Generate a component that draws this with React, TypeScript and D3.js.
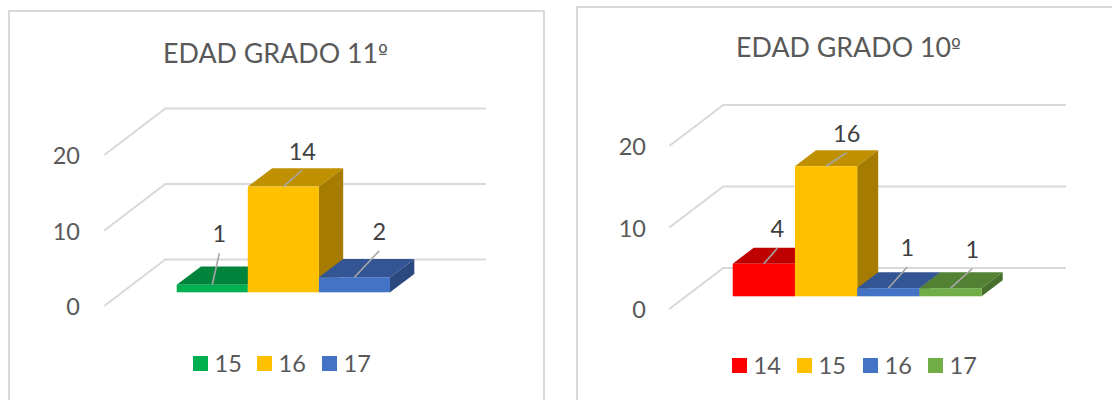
import React from "react";
import * as d3 from "d3";

const ticks = [0, 10, 20];

const titleLeft = "EDAD GRADO 11º";
const categoriesLeft = ["15", "16", "17"];
const valuesLeft = [1, 14, 2];
const colorsLeft = ["#00B050", "#FFC000", "#4472C4"];
const topsLeft = ["#00843C", "#BF9000", "#335593"];
const sidesLeft = ["#006F32", "#A67C00", "#2B487F"];

const titleRight = "EDAD GRADO 10º";
const categoriesRight = ["14", "15", "16", "17"];
const valuesRight = [4, 16, 1, 1];
const colorsRight = ["#FF0000", "#FFC000", "#4472C4", "#70AD47"];
const topsRight = ["#BF0000", "#BF9000", "#335593", "#548235"];
const sidesRight = ["#A60000", "#A67C00", "#2B487F", "#476F2D"];

const FONT = "Lato, Carlito, 'Open Sans', sans-serif";

type Layout = {
  frame: [number, number, number];
  titleX: number;
  titleY: number;
  gridFrontX: number;
  gridWallX: number;
  gridEndX: number;
  y0Front: number;
  y20Front: number;
  wallDy: number;
  tickX: number;
  barLeft: number;
  barRight: number;
  baseline: number;
  pxPerUnit: number;
  depthX: number;
  depthY: number;
  labels: [number, number, number][];
  legendX: number[];
  legendY: number;
};

const layoutLeft: Layout = {
  frame: [9, 11, 544],
  titleX: 275.5,
  titleY: 53,
  gridFrontX: 104.3,
  gridWallX: 165.3,
  gridEndX: 486,
  y0Front: 306,
  y20Front: 155,
  wallDy: 46.5,
  tickX: 80,
  barLeft: 176.7,
  barRight: 390,
  baseline: 292.3,
  pxPerUnit: 7.55,
  depthX: 24.3,
  depthY: 18.3,
  labels: [
    [219.3, 253.3, 233],
    [302.3, 170, 150.5],
    [379.3, 250.7, 231],
  ],
  legendX: [193, 257, 322],
  legendY: 356,
};

const layoutRight: Layout = {
  frame: [577, 7, 1130],
  titleX: 848.5,
  titleY: 47,
  gridFrontX: 669.3,
  gridWallX: 723.3,
  gridEndX: 1066,
  y0Front: 309,
  y20Front: 146,
  wallDy: 41,
  tickX: 646,
  barLeft: 732.7,
  barRight: 981.7,
  baseline: 296.3,
  pxPerUnit: 8.13,
  depthX: 21,
  depthY: 16,
  labels: [
    [777.3, 248.3, 228],
    [846.7, 152.7, 133],
    [907.3, 267, 247],
    [972.3, 268.7, 249],
  ],
  legendX: [732, 797, 863, 928],
  legendY: 358,
};

function Chart({
  title,
  categories,
  values,
  colors,
  tops,
  sides,
  l,
}: {
  title: string;
  categories: string[];
  values: number[];
  colors: string[];
  tops: string[];
  sides: string[];
  l: Layout;
}) {
  const yFront = d3.scaleLinear().domain([0, 20]).range([l.y0Front, l.y20Front]);
  const x = d3
    .scaleBand<string>()
    .domain(categories)
    .range([l.barLeft, l.barRight])
    .padding(0);
  const h = (v: number) => v * l.pxPerUnit;
  const poly = d3.line<[number, number]>();
  const [fx, fy, fr] = l.frame;

  return (
    <g fontFamily={FONT}>
      <path
        d={`M${fx},420V${fy}H${fr}V420`}
        fill="#fff"
        stroke="#D9D9D9"
        strokeWidth={2}
      />
      <text x={l.titleX} y={l.titleY} textAnchor="middle" dominantBaseline="central" fontSize={26.8} fill="#595959">
        {title.slice(0, -1)}
        <tspan fontFamily="'DejaVu Sans', sans-serif" fontSize={21}>{title.slice(-1)}</tspan>
      </text>
      {ticks.map((t) => (
        <g key={t}>
          <path
            d={
              poly([
                [l.gridFrontX, yFront(t)],
                [l.gridWallX, yFront(t) - l.wallDy],
                [l.gridEndX, yFront(t) - l.wallDy],
              ]) ?? ""
            }
            fill="none"
            stroke="#D9D9D9"
            strokeWidth={2}
          />
          <text x={l.tickX} y={yFront(t)} textAnchor="end" dominantBaseline="central" fontSize={23.5} fill="#595959">
            {t}
          </text>
        </g>
      ))}
      {categories.map((c, i) => {
        const x0 = x(c) as number;
        const x1 = x0 + x.bandwidth();
        const y1 = l.baseline;
        const y0 = y1 - h(values[i]);
        return (
          <g key={c}>
            <path
              d={(poly([[x0, y0], [x0 + l.depthX, y0 - l.depthY], [x1 + l.depthX, y0 - l.depthY], [x1, y0]]) ?? "") + "Z"}
              fill={tops[i]}
            />
            <path
              d={(poly([[x1, y0], [x1 + l.depthX, y0 - l.depthY], [x1 + l.depthX, y1 - l.depthY], [x1, y1]]) ?? "") + "Z"}
              fill={sides[i]}
            />
            <rect x={x0} y={y0} width={x.bandwidth()} height={y1 - y0} fill={colors[i]} />
          </g>
        );
      })}
      {categories.map((c, i) => {
        const cx = (x(c) as number) + x.bandwidth() / 2;
        const top = l.baseline - h(values[i]);
        const [ex, ey, ty] = l.labels[i];
        return (
          <g key={c}>
            <line x1={cx} y1={top} x2={ex} y2={ey} stroke="#A6A6A6" strokeWidth={1.6} />
            <text x={ex} y={ty} textAnchor="middle" dominantBaseline="central" fontSize={23.5} fill="#404040">
              {values[i]}
            </text>
          </g>
        );
      })}
      {categories.map((c, i) => (
        <g key={c}>
          <rect x={l.legendX[i]} y={l.legendY} width={15} height={15} fill={colors[i]} />
          <text
            x={l.legendX[i] + 21.5}
            y={l.legendY + 6.5}
            dominantBaseline="central"
            fontSize={23.5}
            fill="#595959"
          >
            {c}
          </text>
        </g>
      ))}
    </g>
  );
}

export default function App() {
  return (
    <svg
      width={1112}
      height={400}
      style={{ position: "absolute", left: 0, top: 0, background: "#fff" }}
    >
      <Chart
        title={titleLeft}
        categories={categoriesLeft}
        values={valuesLeft}
        colors={colorsLeft}
        tops={topsLeft}
        sides={sidesLeft}
        l={layoutLeft}
      />
      <Chart
        title={titleRight}
        categories={categoriesRight}
        values={valuesRight}
        colors={colorsRight}
        tops={topsRight}
        sides={sidesRight}
        l={layoutRight}
      />
    </svg>
  );
}
